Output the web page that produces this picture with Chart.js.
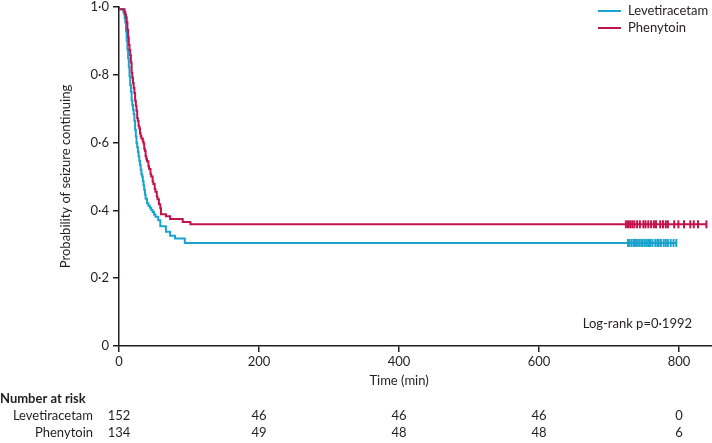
<!DOCTYPE html>
<html>
<head>
<meta charset="utf-8">
<script src="https://cdn.jsdelivr.net/npm/chart.js@4/dist/chart.umd.min.js"></script>
<style>
  html, body { margin: 0; padding: 0; background: #fff; overflow: hidden; }
  #wrap { width: 712px; height: 443px; position: relative; }
  canvas { display: block; }
</style>
</head>
<body>
<div id="wrap"><canvas id="km"></canvas></div>
<script>
// Kaplan-Meier steps (time in min, survival proportion)
const levTimes = [0, 6, 7, 8, 9, 10, 11, 12, 13, 14, 15, 16, 17, 18, 19, 20, 21, 22, 23, 24, 25, 26, 27, 28, 29, 30,
                  31, 32, 33, 34, 35, 36, 37, 38, 40, 42, 44, 46, 48, 50, 52, 56, 59, 67, 73, 80, 94, 140, 797];
const levSurv  = [1.000, 0.993, 0.987, 0.980, 0.967, 0.954, 0.928, 0.901, 0.875, 0.849, 0.822, 0.796, 0.770, 0.750,
                  0.724, 0.711, 0.697, 0.684, 0.664, 0.638, 0.618, 0.599, 0.586, 0.572, 0.559, 0.546, 0.533, 0.520,
                  0.507, 0.500, 0.487, 0.474, 0.461, 0.447, 0.434, 0.421, 0.414, 0.408, 0.401, 0.395, 0.388, 0.381,
                  0.371, 0.353, 0.337, 0.325, 0.317, 0.304, 0.304];

const pheTimes = [0, 8, 9, 10, 11, 12, 13, 14, 15, 16, 17, 18, 19, 20, 21, 22, 23, 24, 25, 26, 27, 28, 29, 30, 31, 32,
                  34, 35, 36, 37, 38, 39, 40, 42, 43, 45, 46, 48, 49, 51, 52, 54, 55, 57, 59, 60, 67, 73, 91, 102, 210, 840];
const pheSurv  = [1.000, 0.993, 0.985, 0.978, 0.970, 0.955, 0.933, 0.910, 0.888, 0.873, 0.858, 0.836, 0.806, 0.791,
                  0.776, 0.761, 0.746, 0.724, 0.709, 0.694, 0.672, 0.664, 0.649, 0.642, 0.627, 0.619, 0.612, 0.604,
                  0.597, 0.582, 0.575, 0.560, 0.552, 0.545, 0.530, 0.522, 0.507, 0.500, 0.485, 0.478, 0.463, 0.455,
                  0.440, 0.433, 0.418, 0.406, 0.389, 0.383, 0.375, 0.366, 0.359, 0.359];

// censored observations (tick marks)
const levCensor = [727, 729, 732, 735, 737, 740, 743, 746, 748, 751, 754, 757, 759, 762, 766, 769, 771, 774, 778, 781, 784, 788, 792, 796];
const levCensorLevel = 0.304;
const pheCensor = [724, 727, 730, 733, 736, 740, 744, 749, 752, 756, 760, 764, 767, 773, 777, 781, 784, 793, 799, 807, 816, 821, 827, 839];
const pheCensorLevel = 0.359;

// axes and number-at-risk table
const xTicks = [0, 200, 400, 600, 800];
const yTicks = [0, 0.2, 0.4, 0.6, 0.8, 1.0];
const riskTimes = [0, 200, 400, 600, 800];
const levRisk = [152, 46, 46, 46, 0];
const pheRisk = [134, 49, 48, 48, 6];

const groups = ['Levetiracetam', 'Phenytoin'];
const colours = ['#1aa3cc', '#c3134b'];
const ink = '#231f20';
const FONT = 'Lato, "Open Sans", sans-serif';

function toPoints(xs, ys) { return xs.map((x, i) => ({ x: x, y: ys[i] })); }
function dotLabel(v) { return v === 0 ? '0' : v.toFixed(1).replace('.', '\u00b7'); }

// draws the legend, log-rank text, axis titles and number-at-risk table
const extras = {
  id: 'extras',
  afterDraw(chart) {
    const ctx = chart.ctx;
    const xs = chart.scales.x, ys = chart.scales.y;
    ctx.save();
    ctx.fillStyle = ink;
    ctx.font = '13px ' + FONT;

    // legend top right
    groups.forEach((g, i) => {
      const y = 11 + i * 17;
      ctx.strokeStyle = colours[i];
      ctx.lineWidth = 2;
      ctx.beginPath(); ctx.moveTo(598, y); ctx.lineTo(621, y); ctx.stroke();
      ctx.textAlign = 'left'; ctx.textBaseline = 'middle';
      ctx.fillText(g, 628, y);
    });

    // log-rank
    ctx.textAlign = 'right'; ctx.textBaseline = 'middle';
    ctx.fillText('Log-rank p=0\u00b71992', 692, 324);

    // axis titles
    ctx.textAlign = 'center';
    ctx.fillText('Time (min)', (xs.left + xs.getPixelForValue(800)) / 2, 381);
    ctx.save();
    ctx.translate(66, (ys.top + ys.bottom) / 2);
    ctx.rotate(-Math.PI / 2);
    ctx.fillText('Probability of seizure continuing', 0, 0);
    ctx.restore();

    // number at risk
    ctx.textAlign = 'left';
    ctx.font = 'bold 13px ' + FONT;
    ctx.fillText('Number at risk', 0, 399);
    ctx.font = '13px ' + FONT;
    [levRisk, pheRisk].forEach((row, r) => {
      const y = 416 + r * 17;
      ctx.textAlign = 'right';
      ctx.fillText(groups[r], 93, y);
      ctx.textAlign = 'center';
      row.forEach((n, k) => ctx.fillText(String(n), xs.getPixelForValue(riskTimes[k]), y));
    });
    ctx.restore();
  }
};

new Chart(document.getElementById('km'), {
  type: 'line',
  data: {
    datasets: [
      { label: groups[0], data: toPoints(levTimes, levSurv), borderColor: colours[0], borderWidth: 2,
        stepped: 'after', pointRadius: 0, fill: false, order: 2 },
      { label: groups[1], data: toPoints(pheTimes, pheSurv), borderColor: colours[1], borderWidth: 2,
        stepped: 'after', pointRadius: 0, fill: false, order: 1 },
      { label: 'lev censored', data: levCensor.map(t => ({ x: t, y: levCensorLevel })), showLine: false,
        pointStyle: 'line', rotation: 90, pointRadius: 4, borderColor: colours[0], borderWidth: 2, order: 2 },
      { label: 'phe censored', data: pheCensor.map(t => ({ x: t, y: pheCensorLevel })), showLine: false,
        pointStyle: 'line', rotation: 90, pointRadius: 4, borderColor: colours[1], borderWidth: 2, order: 1 }
    ]
  },
  options: {
    responsive: true,
    maintainAspectRatio: false,
    animation: false,
    layout: { autoPadding: false, padding: { top: 7, right: 0, left: 0, bottom: 0 } },
    plugins: { legend: { display: false }, tooltip: { enabled: false } },
    scales: {
      x: {
        type: 'linear', min: 0, max: 847,
        afterBuildTicks: s => { s.ticks = xTicks.map(v => ({ value: v })); },
        afterFit: s => { s.height = 97; s.paddingLeft = 0; s.paddingRight = 0; },
        grid: { display: true, drawOnChartArea: false, drawTicks: true, tickLength: 6, color: ink, lineWidth: 1.5 },
        border: { display: true, color: ink, width: 1.5 },
        ticks: { color: ink, font: { family: FONT, size: 13 }, padding: 2, maxRotation: 0 }
      },
      y: {
        min: 0, max: 1,
        afterBuildTicks: s => { s.ticks = yTicks.map(v => ({ value: v })); },
        afterFit: s => { s.width = 119; s.paddingTop = 0; s.paddingBottom = 0; },
        grid: { display: true, drawOnChartArea: false, drawTicks: true, tickLength: 6, color: ink, lineWidth: 1.5 },
        border: { display: true, color: ink, width: 1.5 },
        ticks: { color: ink, font: { family: FONT, size: 13 }, padding: 4, callback: v => dotLabel(v) }
      }
    }
  },
  plugins: [extras]
});
</script>
</body>
</html>
